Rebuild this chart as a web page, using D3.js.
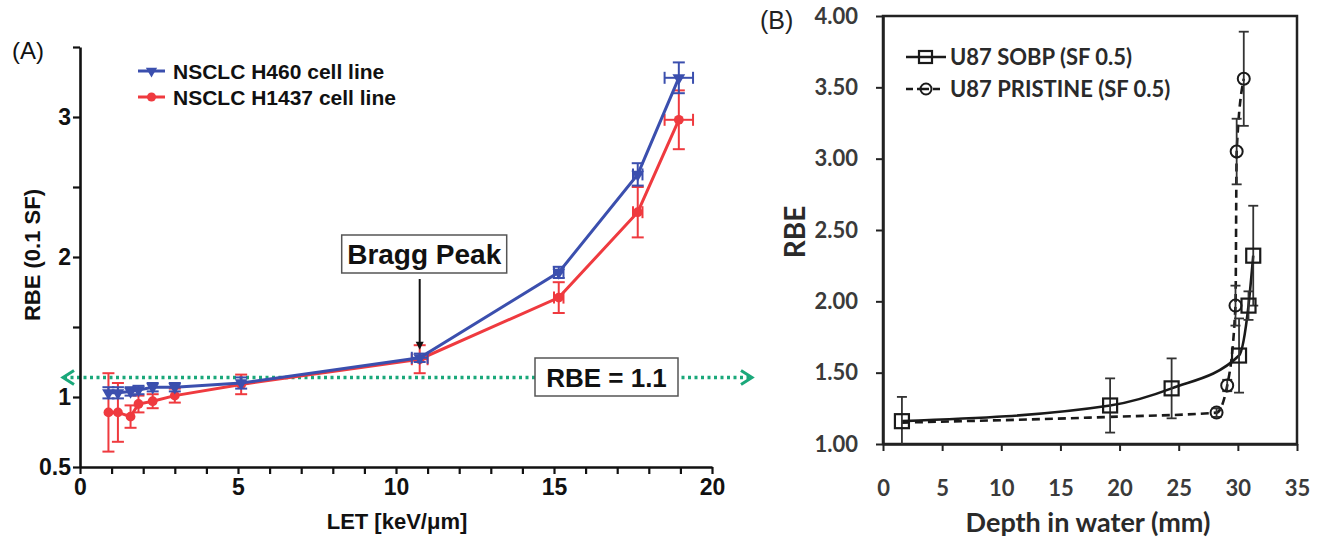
<!DOCTYPE html>
<html>
<head>
<meta charset="utf-8">
<script src="https://cdn.jsdelivr.net/npm/d3@7"></script>
<style>
  html, body { margin: 0; padding: 0; background: #fff; }
  svg { display: block; }
</style>
</head>
<body>
<div id="chart"></div>
<script>
// ==== Panel A data: RBE (0.1 SF) vs LET ====
const letValues   = [0.9, 1.2, 1.6, 1.85, 2.3, 3.0, 5.1, 10.75, 15.15, 17.65, 18.95];
const letErr      = [0, 0, 0, 0, 0, 0, 0, 0.25, 0.15, 0.15, 0.45];
const rbeH460     = [1.03, 1.03, 1.04, 1.05, 1.07, 1.07, 1.10, 1.28, 1.89, 2.59, 3.28];
const errH460     = [0.04, 0.04, 0.03, 0.03, 0.03, 0.03, 0.04, 0.03, 0.04, 0.08, 0.11];
const rbeH1437    = [0.89, 0.89, 0.86, 0.95, 0.97, 1.01, 1.09, 1.27, 1.71, 2.32, 2.98];
const errH1437    = [0.28, 0.21, 0.08, 0.06, 0.05, 0.05, 0.07, 0.10, 0.11, 0.18, 0.21];
const seriesA     = ["NSCLC H460 cell line", "NSCLC H1437 cell line"];
const xTicksA     = [0, 5, 10, 15, 20];
const yTicksA     = [0.5, 1, 2, 3];
const rbeRef      = 1.14;   // dotted "RBE = 1.1" line as drawn
const braggLet    = 10.75;

// ==== Panel B data: RBE vs depth ====
const sobpDepth   = [1.6, 19.2, 24.4, 30.1, 30.9, 31.3];
const sobpRbe     = [1.16, 1.27, 1.39, 1.62, 1.97, 2.32];
const sobpErr     = [0.17, 0.19, 0.21, 0.26, 0.10, 0.35];
const prisDepth   = [1.6, 19.2, 28.2, 29.1, 29.8, 29.9, 30.5];
const prisRbe     = [1.15, 1.19, 1.22, 1.41, 1.97, 3.05, 3.56];
const prisErr     = [0, 0, 0.03, 0.04, 0.14, 0.23, 0.33];
const seriesB     = ["U87 SOBP (SF 0.5)", "U87 PRISTINE (SF 0.5)"];
const xTicksB     = [0, 5, 10, 15, 20, 25, 30, 35];
const yTicksB     = [1, 1.5, 2, 2.5, 3, 3.5, 4];

const W = 1326, H = 547;
const BLUE = "#3b4fae", RED = "#ef3a3f", GREEN = "#1aa87a";
const fontA = "'Liberation Sans', Arial, sans-serif";
const fontB = "Lato, 'Open Sans', sans-serif";

const svg = d3.select("#chart").append("svg")
  .attr("width", W).attr("height", H);

// ================= Panel A =================
const xA = d3.scaleLinear().domain([0, 20]).range([80, 712]);
const yA = d3.scaleLinear().domain([0.5, 3.5]).range([467, 47]);

const gA = svg.append("g");

// reference line RBE = 1.1 (dotted, with open arrowheads)
const yRef = yA(rbeRef);
gA.append("line")
  .attr("x1", 64).attr("x2", 750).attr("y1", yRef).attr("y2", yRef)
  .attr("stroke", GREEN).attr("stroke-width", 3.5)
  .attr("stroke-dasharray", "3,3.5");
gA.append("path")
  .attr("d", `M${74},${yRef - 7}L${63},${yRef}L${74},${yRef + 7}`)
  .attr("fill", "none").attr("stroke", GREEN).attr("stroke-width", 3);
gA.append("path")
  .attr("d", `M${741},${yRef - 7}L${752},${yRef}L${741},${yRef + 7}`)
  .attr("fill", "none").attr("stroke", GREEN).attr("stroke-width", 3);

// axes
const axisYA = gA.append("g")
  .attr("transform", `translate(${xA(0)},0)`)
  .call(d3.axisLeft(yA)
    .tickValues([0.5, 1, 1.5, 2, 2.5, 3, 3.5])
    .tickFormat(d => yTicksA.includes(d) ? d : "")
    .tickSize(7).tickSizeOuter(0).tickPadding(2));
const axisXA = gA.append("g")
  .attr("transform", `translate(0,${yA(0.5)})`)
  .call(d3.axisBottom(xA)
    .tickValues(d3.range(0, 21))
    .tickFormat(d => xTicksA.includes(d) ? d : "")
    .tickSize(7).tickSizeOuter(0).tickPadding(5));
[axisYA, axisXA].forEach(ax => {
  ax.select(".domain").attr("stroke", "#111").attr("stroke-width", 2.6);
  ax.selectAll(".tick line").attr("stroke", "#111").attr("stroke-width", 2.2);
  ax.selectAll("text")
    .attr("fill", "#111")
    .style("font-family", fontA).style("font-weight", "bold").style("font-size", "23px");
});

// series A
function drawSeriesA(vals, errs, color, marker) {
  const pts = letValues.map((x, i) => ({ x, y: vals[i], e: errs[i], ex: letErr[i] }));
  gA.append("path")
    .datum(pts)
    .attr("fill", "none").attr("stroke", color).attr("stroke-width", 3)
    .attr("d", d3.line().x(d => xA(d.x)).y(d => yA(d.y)));
  const eg = gA.append("g").attr("stroke", color).attr("stroke-width", 2);
  pts.forEach(d => {
    const cx = xA(d.x);
    if (d.e > 0) {
      eg.append("line").attr("x1", cx).attr("x2", cx).attr("y1", yA(d.y - d.e)).attr("y2", yA(d.y + d.e));
      [d.y - d.e, d.y + d.e].forEach(v =>
        eg.append("line").attr("x1", cx - 6).attr("x2", cx + 6).attr("y1", yA(v)).attr("y2", yA(v)));
    }
    if (d.ex > 0) {
      const cy = yA(d.y);
      eg.append("line").attr("x1", xA(d.x - d.ex)).attr("x2", xA(d.x + d.ex)).attr("y1", cy).attr("y2", cy);
      [d.x - d.ex, d.x + d.ex].forEach(v =>
        eg.append("line").attr("x1", xA(v)).attr("x2", xA(v)).attr("y1", cy - 6).attr("y2", cy + 6));
    }
  });
  gA.selectAll(null).data(pts).enter().append("path")
    .attr("transform", d => `translate(${xA(d.x)},${yA(d.y)})` + (marker === "tri" ? " rotate(180)" : ""))
    .attr("d", d3.symbol().type(marker === "tri" ? d3.symbolTriangle : d3.symbolCircle).size(marker === "tri" ? 70 : 75))
    .attr("fill", color);
}
drawSeriesA(rbeH1437, errH1437, RED, "circle");
drawSeriesA(rbeH460, errH460, BLUE, "tri");

// legend A
seriesA.forEach((name, i) => {
  const ly = 71 + i * 26;
  const color = i === 0 ? BLUE : RED;
  gA.append("line").attr("x1", 138).attr("x2", 165).attr("y1", ly).attr("y2", ly)
    .attr("stroke", color).attr("stroke-width", 3);
  gA.append("path")
    .attr("transform", `translate(151.5,${ly})` + (i === 0 ? " rotate(180)" : ""))
    .attr("d", d3.symbol().type(i === 0 ? d3.symbolTriangle : d3.symbolCircle).size(i === 0 ? 55 : 65))
    .attr("fill", color);
  gA.append("text").attr("x", 173).attr("y", ly + 7.5)
    .style("font-family", fontA).style("font-weight", "bold").style("font-size", "21px")
    .attr("fill", "#111").text(name);
});

// annotations A
const bx = xA(braggLet);
gA.append("rect").attr("x", bx - 78).attr("y", 235).attr("width", 165).attr("height", 38)
  .attr("fill", "#fff").attr("stroke", "#555").attr("stroke-width", 1.5);
gA.append("text").attr("x", bx + 4.5).attr("y", 264).attr("text-anchor", "middle")
  .style("font-family", fontA).style("font-weight", "bold").style("font-size", "28px")
  .attr("fill", "#111").text("Bragg Peak");
gA.append("line").attr("x1", bx).attr("x2", bx).attr("y1", 279).attr("y2", yA(1.28) - 14)
  .attr("stroke", "#111").attr("stroke-width", 2);
gA.append("path")
  .attr("d", `M${bx - 4},${yA(1.28) - 16}L${bx},${yA(1.28) - 8}L${bx + 4},${yA(1.28) - 16}Z`)
  .attr("fill", "#111");

gA.append("rect").attr("x", 535).attr("y", 358).attr("width", 143).attr("height", 38)
  .attr("fill", "#fff").attr("stroke", "#555").attr("stroke-width", 1.5);
gA.append("text").attr("x", 606.5).attr("y", 386.5).attr("text-anchor", "middle")
  .style("font-family", fontA).style("font-weight", "bold").style("font-size", "26px")
  .attr("fill", "#111").text("RBE = 1.1");

// titles A
gA.append("text").attr("x", 12).attr("y", 59)
  .style("font-family", fontA).style("font-size", "24px").attr("fill", "#111").text("(A)");
gA.append("text").attr("x", 397).attr("y", 529).attr("text-anchor", "middle")
  .style("font-family", fontA).style("font-weight", "bold").style("font-size", "22px")
  .attr("fill", "#111").text("LET [keV/\u03bcm]");
gA.append("text")
  .attr("transform", `translate(40,255) rotate(-90)`).attr("text-anchor", "middle")
  .style("font-family", fontA).style("font-weight", "bold").style("font-size", "22px")
  .attr("fill", "#111").text("RBE (0.1 SF)");

// ================= Panel B =================
const xB = d3.scaleLinear().domain([0, 35]).range([883, 1297]);
const yB = d3.scaleLinear().domain([1, 4]).range([444, 16]);
const gB = svg.append("g");

gB.append("rect").attr("x", xB(0)).attr("y", yB(4)).attr("width", xB(35) - xB(0)).attr("height", yB(1) - yB(4))
  .attr("fill", "none").attr("stroke", "#222").attr("stroke-width", 2.5);

const axisYB = gB.append("g")
  .attr("transform", `translate(${xB(0)},0)`)
  .call(d3.axisLeft(yB).tickValues(yTicksB).tickFormat(d3.format(".2f"))
    .tickSize(7).tickSizeOuter(0).tickPadding(18));
const axisXB = gB.append("g")
  .attr("transform", `translate(0,${yB(1)})`)
  .call(d3.axisBottom(xB).tickValues(xTicksB).tickFormat(d3.format("d"))
    .tickSize(7).tickSizeOuter(0).tickPadding(29));
[axisYB, axisXB].forEach(ax => {
  ax.select(".domain").attr("stroke", "#222").attr("stroke-width", 2.5);
  ax.selectAll(".tick line").attr("stroke", "#222").attr("stroke-width", 2);
  ax.selectAll("text")
    .attr("fill", "#3a3a3a")
    .style("font-family", fontB).style("font-weight", "bold").style("font-size", "22px");
});

function drawSeriesB(xs, ys, errs, dashed, marker) {
  const pts = xs.map((x, i) => ({ x, y: ys[i], e: errs[i] }));
  gB.append("path").datum(pts)
    .attr("fill", "none").attr("stroke", "#1a1a1a").attr("stroke-width", 2.6)
    .attr("stroke-dasharray", dashed ? "8,5" : null)
    .attr("d", d3.line().curve(d3.curveMonotoneX).x(d => xB(d.x)).y(d => yB(d.y)));
  const eg = gB.append("g").attr("stroke", "#333").attr("stroke-width", 1.8);
  pts.forEach(d => {
    if (d.e <= 0) return;
    const cx = xB(d.x);
    const lo = Math.max(1, d.y - d.e);
    eg.append("line").attr("x1", cx).attr("x2", cx).attr("y1", yB(lo)).attr("y2", yB(d.y + d.e));
    eg.append("line").attr("x1", cx - 5).attr("x2", cx + 5).attr("y1", yB(d.y + d.e)).attr("y2", yB(d.y + d.e));
    if (d.y - d.e > 1) eg.append("line").attr("x1", cx - 5).attr("x2", cx + 5).attr("y1", yB(lo)).attr("y2", yB(lo));
  });
  pts.forEach(d => {
    if (marker === "square") {
      gB.append("rect").attr("x", xB(d.x) - 7).attr("y", yB(d.y) - 7).attr("width", 14).attr("height", 14)
        .attr("fill", "none").attr("stroke", "#1a1a1a").attr("stroke-width", 2.2);
    } else if (d.e > 0 || d.x > 25) {
      gB.append("circle").attr("cx", xB(d.x)).attr("cy", yB(d.y)).attr("r", 6)
        .attr("fill", "none").attr("stroke", "#1a1a1a").attr("stroke-width", 2);
    }
  });
}
drawSeriesB(prisDepth, prisRbe, prisErr, true, "circle");
drawSeriesB(sobpDepth, sobpRbe, sobpErr, false, "square");

// legend B
seriesB.forEach((name, i) => {
  const ly = 57 + i * 32;
  gB.append("line").attr("x1", 906).attr("x2", 946).attr("y1", ly).attr("y2", ly)
    .attr("stroke", "#1a1a1a").attr("stroke-width", 2.4)
    .attr("stroke-dasharray", i === 1 ? "7,4,12,4,7" : null);
  if (i === 0) {
    gB.append("rect").attr("x", 919).attr("y", ly - 6).attr("width", 13).attr("height", 12)
      .attr("fill", "none").attr("stroke", "#1a1a1a").attr("stroke-width", 2.2);
  } else {
    gB.append("circle").attr("cx", 926).attr("cy", ly).attr("r", 5.5)
      .attr("fill", "none").attr("stroke", "#1a1a1a").attr("stroke-width", 2);
  }
  gB.append("text").attr("x", 950).attr("y", ly + 7.5)
    .style("font-family", fontB).style("font-weight", "bold").style("font-size", "22px")
    .attr("fill", "#2a2a2a").text(name);
});

// titles B
gB.append("text").attr("x", 760).attr("y", 29)
  .style("font-family", fontA).style("font-size", "25px").attr("fill", "#222").text("(B)");
gB.append("text").attr("x", 1088).attr("y", 532).attr("text-anchor", "middle")
  .style("font-family", fontB).style("font-weight", "bold").style("font-size", "27px")
  .attr("fill", "#2a2a2a").text("Depth in water (mm)");
gB.append("text")
  .attr("transform", `translate(805,232) rotate(-90)`).attr("text-anchor", "middle")
  .style("font-family", fontB).style("font-weight", "bold").style("font-size", "28px")
  .attr("fill", "#2a2a2a").text("RBE");
</script>
</body>
</html>
